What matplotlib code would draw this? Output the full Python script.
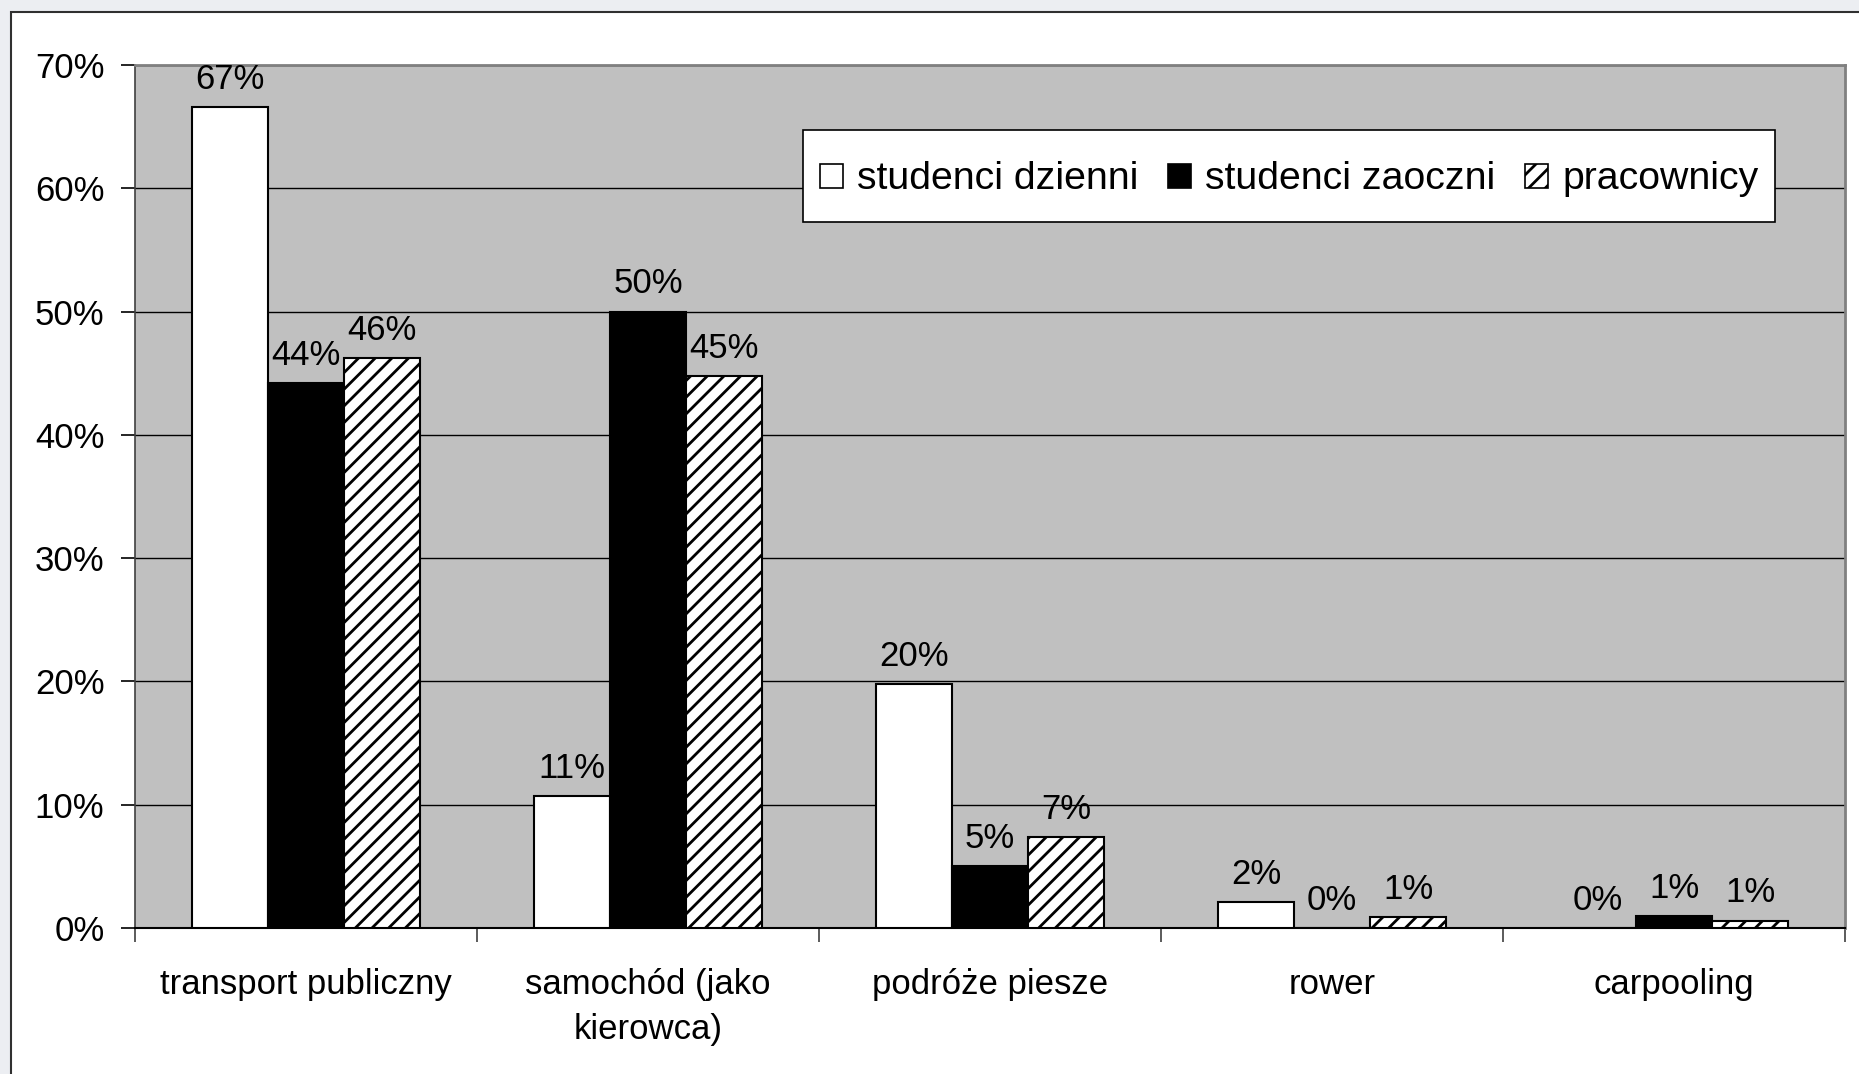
import matplotlib
matplotlib.use("Agg")
import matplotlib.pyplot as plt
from matplotlib.patches import Rectangle, Patch
from matplotlib.legend_handler import HandlerPatch
import numpy as np

plt.rcParams['font.family'] = ['Liberation Sans', 'DejaVu Sans']
plt.rcParams['hatch.linewidth'] = 2.0
plt.rcParams['hatch.color'] = 'black'

categories = ["transport publiczny", "samochód (jako\nkierowca)", "podróże piesze", "rower", "carpooling"]
series_names = ["studenci dzienni", "studenci zaoczni", "pracownicy"]
studenci_dzienni = [66.6, 10.7, 19.8, 2.1, 0.0]
studenci_zaoczni = [44.2, 50.0, 5.0, 0.0, 1.0]
pracownicy = [46.2, 44.8, 7.4, 0.9, 0.6]
y_ticks = [0, 10, 20, 30, 40, 50, 60, 70]
y_tick_labels = ["0%", "10%", "20%", "30%", "40%", "50%", "60%", "70%"]

W, H = 1859, 1074
fig = plt.figure(figsize=(W / 100, H / 100), dpi=100)
fig.patch.set_facecolor('#eceef2')

# white chart area with border
fig.patches.append(Rectangle((11 / W, -0.1), 2.0, 1 - 12 / H + 0.1, transform=fig.transFigure,
                             facecolor='white', edgecolor='#303030', linewidth=1.5, zorder=-10))

ax = fig.add_axes([135 / W, 1 - 928 / H, (1845 - 135) / W, (928 - 65) / H])
ax.set_facecolor('#c0c0c0')

x = np.arange(len(categories))
w = 1 / 4.5
styles = [dict(facecolor='white', edgecolor='black'),
          dict(facecolor='black', edgecolor='black'),
          dict(facecolor='white', edgecolor='black', hatch='//')]
data = [studenci_dzienni, studenci_zaoczni, pracownicy]
for k, (vals, st) in enumerate(zip(data, styles)):
    xs = x + (k - 1) * w
    ax.bar(xs, vals, width=w, linewidth=1.5, zorder=3, label=series_names[k], **st)
    for xi, v in zip(xs, vals):
        ax.annotate(f"{v:.0f}%", (xi, v), xytext=(0, 8), textcoords='offset points',
                    ha='center', va='bottom', fontsize=25, zorder=5)

ax.set_xlim(-0.5, len(categories) - 0.5)
ax.set_ylim(0, 70)
ax.set_yticks(y_ticks)
ax.set_yticklabels(y_tick_labels, fontsize=25)
ax.yaxis.grid(True, color='black', linewidth=1.0, zorder=1)
ax.set_axisbelow(True)

ax.set_xticks(np.arange(-0.5, len(categories), 1.0))
ax.set_xticklabels([])
ax.set_xticks(x, minor=True)
ax.set_xticklabels(categories, minor=True, fontsize=25, linespacing=1.45)
ax.tick_params(axis='x', which='minor', length=0, pad=29)
ax.tick_params(axis='x', which='major', length=10, width=1.2, color='#404040', direction='out')
ax.tick_params(axis='y', length=10, width=1.2, color='black', direction='out', pad=12)

for s in ['top', 'right']:
    ax.spines[s].set_color('#808080')
    ax.spines[s].set_linewidth(2)
ax.spines['left'].set_color('#404040')
ax.spines['left'].set_linewidth(1.2)
ax.spines['bottom'].set_color('black')
ax.spines['bottom'].set_linewidth(1.5)


def square_patch(legend, orig_handle, xdescent, ydescent, width, height, fontsize):
    s = 0.6 * fontsize
    return Rectangle((-xdescent, -ydescent + (height - s) / 2), s, s)


handles = [Patch(facecolor='white', edgecolor='black', linewidth=1.2),
           Patch(facecolor='black', edgecolor='black', linewidth=1.2),
           Patch(facecolor='white', edgecolor='black', hatch='//', linewidth=1.2)]
leg = ax.legend(handles, series_names, ncol=3, loc='upper right',
                bbox_to_anchor=(1775 / W, 1 - 130 / H), bbox_transform=fig.transFigure,
                fontsize=28.3, frameon=True, fancybox=False, edgecolor='black',
                handlelength=0.6, handleheight=1.95, handletextpad=0.35,
                columnspacing=0.75, borderpad=0.42, borderaxespad=0,
                handler_map={Patch: HandlerPatch(patch_func=square_patch)})
leg.get_frame().set_linewidth(1.2)
leg.get_frame().set_facecolor('white')
leg.get_frame().set_alpha(1)
leg.set_zorder(10)

fig.savefig("out.png", dpi=100, facecolor=fig.get_facecolor())
